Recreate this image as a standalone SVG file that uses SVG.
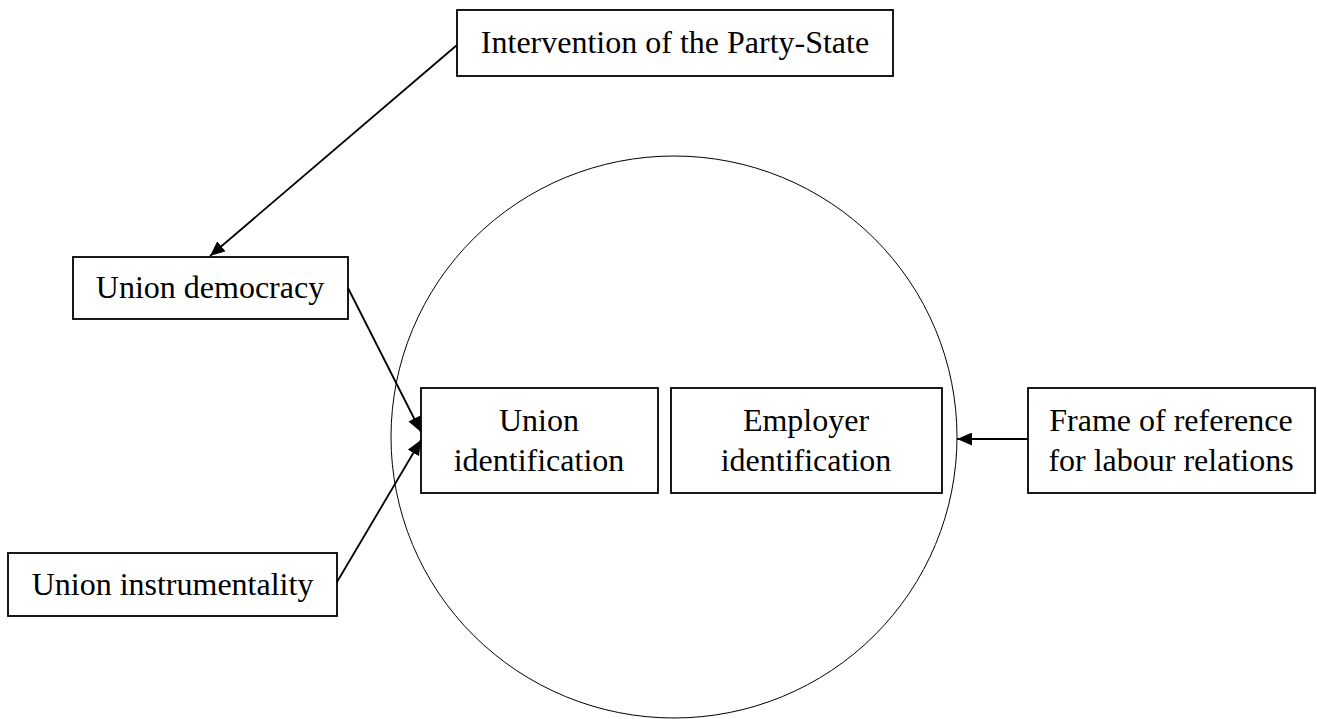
<svg xmlns="http://www.w3.org/2000/svg" width="1317" height="719" viewBox="0 0 1317 719">
<style>
.box{fill:#fff;stroke:#000;stroke-width:1.8}
.t{font-family:"Liberation Serif","Times New Roman",serif;font-size:32px;fill:#000;text-anchor:middle}
.c{stroke:#000;stroke-width:1.8;fill:none;marker-end:url(#ah)}
</style>
<defs>
<marker id="ah" markerUnits="userSpaceOnUse" markerWidth="16" markerHeight="13" refX="15" refY="6.5" orient="auto">
<path d="M0,0 L15,6.5 L0,13 z" fill="#000"/>
</marker>
</defs>
<rect width="1317" height="719" fill="#fff"/>
<ellipse id="circle" cx="674" cy="437" rx="283" ry="281" fill="none" stroke="#000" stroke-width="1"/>
<g id="n-intervention"><rect class="box" x="457" y="10" width="436" height="66"/><text class="t" x="675" y="53">Intervention of the Party-State</text></g>
<g id="n-democracy"><rect class="box" x="73" y="257" width="275" height="62"/><text class="t" x="210" y="298">Union democracy</text></g>
<g id="n-instrumentality"><rect class="box" x="8" y="553" width="329" height="63"/><text class="t" x="172.5" y="595">Union instrumentality</text></g>
<g id="n-unionid"><rect class="box" x="421" y="388" width="237" height="105"/><text class="t" x="539" y="431">Union</text><text class="t" x="539" y="471">identification</text></g>
<g id="n-employerid"><rect class="box" x="671" y="388" width="271" height="105"/><text class="t" x="806" y="431">Employer</text><text class="t" x="806" y="471">identification</text></g>
<g id="n-frame"><rect class="box" x="1028" y="388" width="287" height="105"/><text class="t" x="1171" y="431">Frame of reference</text><text class="t" x="1171" y="471">for labour relations</text></g>
<g id="connectors">
<line class="c" x1="457" y1="45" x2="210" y2="256"/>
<line class="c" x1="348" y1="288" x2="421" y2="432"/>
<line class="c" x1="337" y1="582" x2="421" y2="440"/>
<line class="c" x1="1028" y1="439" x2="957" y2="439"/>
</g>
</svg>
